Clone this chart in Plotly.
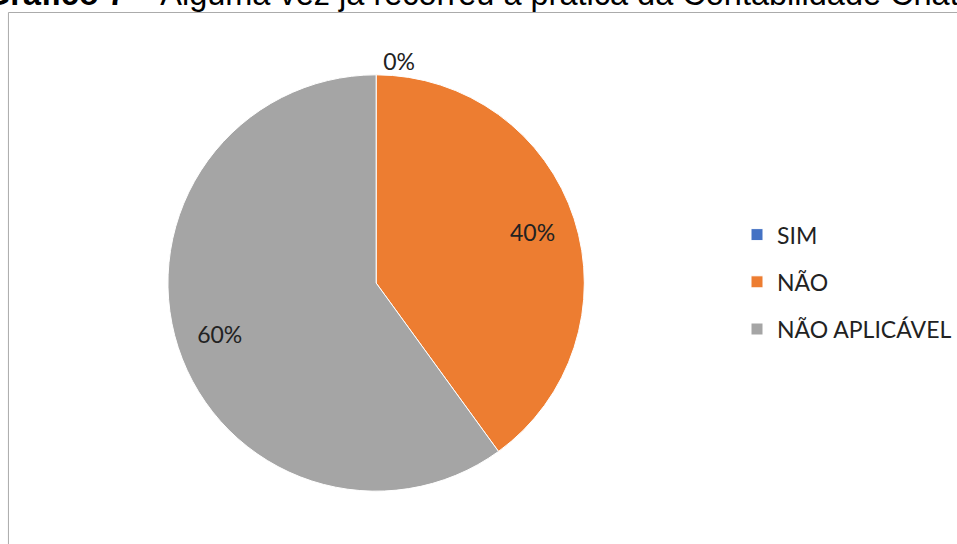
import plotly.graph_objects as go

categories = ["SIM", "NÃO", "NÃO APLICÁVEL"]
values = [0, 40, 60]
colors = ["#4472C4", "#ED7D31", "#A5A5A5"]
title_bold = "Gráfico 7"
title_rest = " – Alguma vez já recorreu à prática da Contabilidade Criativa?"

W, H = 957, 544
cx, cy, R = 378.5, 283, 209.5

legend_labels = [
    f'<span style="font-size:23px;baseline-shift:4px">{c}</span>' for c in categories
]
dom = dict(x=[(cx - R) / W, (cx + R) / W],
           y=[(H - cy - R) / H, (H - cy + R) / H])
lab_font = dict(family="Lato", size=23, color="#222222")

fig = go.Figure()
# slices + legend
fig.add_trace(go.Pie(
    labels=legend_labels,
    values=values,
    sort=False,
    direction="clockwise",
    rotation=0,
    marker=dict(colors=colors, line=dict(color="white", width=1)),
    textposition="none",
    hoverinfo="skip",
    domain=dom,
    showlegend=True,
))
# transparent ring carrying the percentage labels
fig.add_trace(go.Pie(
    labels=legend_labels,
    values=values,
    sort=False,
    direction="clockwise",
    rotation=0,
    hole=0.58,
    marker=dict(colors=["rgba(0,0,0,0)"] * 3, line=dict(width=0)),
    textinfo="percent",
    texttemplate="%{percent:.0%}",
    textposition=["outside", "inside", "inside"],
    insidetextorientation="horizontal",
    textfont=lab_font,
    outsidetextfont=lab_font,
    insidetextfont=lab_font,
    hoverinfo="skip",
    domain=dom,
    showlegend=False,
))

fig.add_annotation(
    xref="paper", yref="paper", x=-17 / W, y=(H - 14) / H,
    xanchor="left", yanchor="bottom", showarrow=False,
    text=f"<b>{title_bold}</b>{title_rest}",
    font=dict(family="Liberation Sans", size=32.5, color="#000000"),
)

fig.add_shape(type="rect", xref="paper", yref="paper",
              x0=8.5 / W, x1=1.02, y0=-0.02, y1=(H - 12.5) / H,
              line=dict(color="#ABABAB", width=1), layer="below")

fig.update_layout(
    width=W, height=H,
    margin=dict(l=0, r=0, t=0, b=0),
    paper_bgcolor="white", plot_bgcolor="white",
    legend=dict(x=742 / W, y=(H - 282) / H, xanchor="left", yanchor="middle",
                font=dict(family="Lato", size=34, color="#222222"),
                bgcolor="rgba(0,0,0,0)", itemclick=False, itemdoubleclick=False),
)

fig.write_html("out.html")
